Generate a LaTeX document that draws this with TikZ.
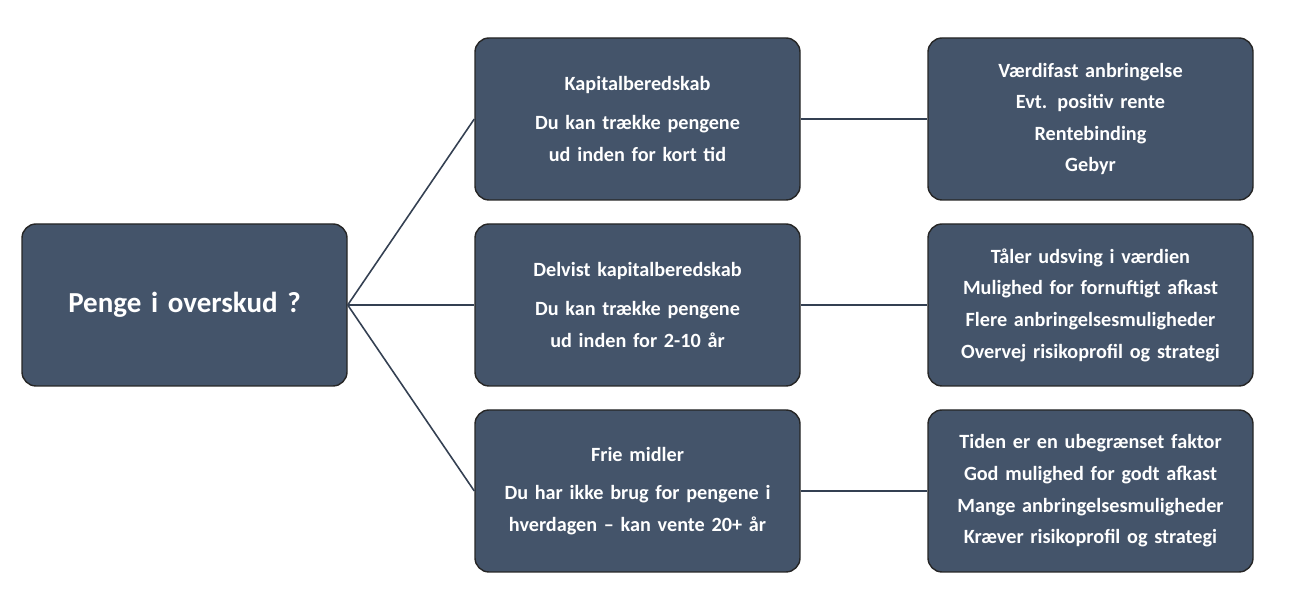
\documentclass[tikz,border=0pt]{standalone}
\usepackage{fontspec}
\setmainfont{Carlito}
\usetikzlibrary{positioning}
\definecolor{slate}{RGB}{68,84,106}
\definecolor{slatedark}{RGB}{52,64,82}
\tikzset{
  box/.style={draw=black!85, line width=0.8pt, fill=slate, rounded corners=8pt,
    minimum width=6.5cm, minimum height=3.24cm, text width=6.1cm, align=center,
    text=white, font=\bfseries\fontsize{11.5}{18}\selectfont},
  link/.style={draw=slatedark, line width=0.9pt}
}
\begin{document}
\begin{tikzpicture}
  \useasboundingbox (0,0) rectangle (26.18,12.3);
  % root
  \node[box, font=\bfseries\fontsize{16.5}{20}\selectfont] (root) at (3.69,6.2) {Penge i overskud ?};
  % middle column
  \node[box] (kap) at (12.75,9.92) {Kapitalberedskab\\[4pt]Du kan trække pengene ud inden for kort tid};
  \node[box] (delv) at (12.75,6.2) {Delvist kapitalberedskab\\[4pt]Du kan trække pengene ud inden for 2-10 år};
  \node[box] (frie) at (12.75,2.48) {Frie midler\\[4pt]Du har ikke brug for pengene i hverdagen -- kan vente 20+ år};
  % right column
  \node[box] (kapr) at (21.81,9.92) {Værdifast anbringelse\\Evt. positiv rente\\Rentebinding\\Gebyr};
  \node[box] (delvr) at (21.81,6.2) {Tåler udsving i værdien\\Mulighed for fornuftigt afkast\\Flere anbringelsesmuligheder\\Overvej risikoprofil og strategi};
  \node[box] (frier) at (21.81,2.48) {Tiden er en ubegrænset faktor\\God mulighed for godt afkast\\Mange anbringelsesmuligheder\\Kræver risikoprofil og strategi};
  % connectors
  \foreach \m/\r in {kap/kapr, delv/delvr, frie/frier}{
    \draw[link] (root.east) -- (\m.west);
    \draw[link] (\m.east) -- (\r.west);
  }
\end{tikzpicture}
\end{document}
